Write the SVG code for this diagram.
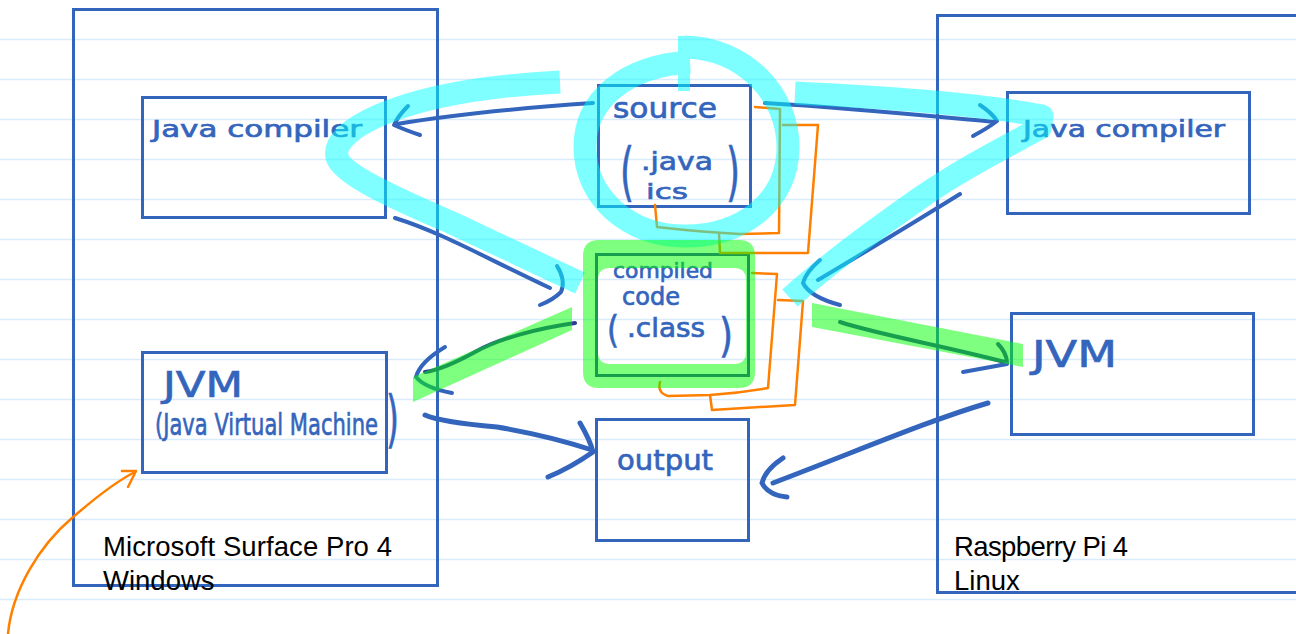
<svg xmlns="http://www.w3.org/2000/svg" width="1296" height="634" viewBox="0 0 1296 634">
<style>
.rule{stroke:#d9ecfb;stroke-width:1.5}
.box{fill:none;stroke:#3465bd;stroke-width:3}
.hw{fill:#3465bd;stroke:#3465bd;stroke-width:0.7;font-family:"DejaVu Sans",sans-serif}
.lbl{fill:#000;font-family:"Liberation Sans",Arial,sans-serif;font-size:27.5px}
.ink{fill:none;stroke:#3465bd;stroke-width:4;stroke-linecap:round;stroke-linejoin:round}
.dk{fill:none;stroke:#2e3d9c;stroke-width:4;stroke-linecap:round;stroke-linejoin:round}
.or{fill:none;stroke:#ff8000;stroke-width:2.5;stroke-linecap:round;stroke-linejoin:round}
.cy{fill:none;stroke:#00ffff;stroke-width:23;stroke-linejoin:round}
</style>
<rect x="0" y="0" width="1296" height="634" fill="#fff"/>
<g id="paper">
<line class="rule" x1="0" y1="39.5" x2="1296" y2="39.5"/>
<line class="rule" x1="0" y1="79.5" x2="1296" y2="79.5"/>
<line class="rule" x1="0" y1="119.5" x2="1296" y2="119.5"/>
<line class="rule" x1="0" y1="159.5" x2="1296" y2="159.5"/>
<line class="rule" x1="0" y1="199.5" x2="1296" y2="199.5"/>
<line class="rule" x1="0" y1="239.5" x2="1296" y2="239.5"/>
<line class="rule" x1="0" y1="279.5" x2="1296" y2="279.5"/>
<line class="rule" x1="0" y1="319.5" x2="1296" y2="319.5"/>
<line class="rule" x1="0" y1="359.5" x2="1296" y2="359.5"/>
<line class="rule" x1="0" y1="399.5" x2="1296" y2="399.5"/>
<line class="rule" x1="0" y1="439.5" x2="1296" y2="439.5"/>
<line class="rule" x1="0" y1="479.5" x2="1296" y2="479.5"/>
<line class="rule" x1="0" y1="519.5" x2="1296" y2="519.5"/>
<line class="rule" x1="0" y1="559.5" x2="1296" y2="559.5"/>
<line class="rule" x1="0" y1="599.5" x2="1296" y2="599.5"/>
</g>
<g id="windows-machine">
<rect class="box" x="73.5" y="9.5" width="364" height="576"/>
<text class="lbl" x="103" y="556" textLength="289">Microsoft Surface Pro 4</text>
<text class="lbl" x="103" y="590">Windows</text>
</g>
<g id="windows-compiler">
<rect class="box" x="142.5" y="97.5" width="243" height="120"/>
<text class="hw" x="152" y="137" font-size="23" textLength="210" lengthAdjust="spacingAndGlyphs">Java compiler</text>
</g>
<g id="windows-jvm">
<rect class="box" x="142.5" y="352.5" width="244" height="120"/>
<text class="hw" x="163" y="397" font-size="36" textLength="80" lengthAdjust="spacingAndGlyphs">JVM</text>
<text class="hw" x="155" y="435" font-size="30"><tspan textLength="223" lengthAdjust="spacingAndGlyphs">(Java Virtual Machine</tspan><tspan x="386" y="440" font-size="62" textLength="13" lengthAdjust="spacingAndGlyphs">)</tspan></text>
</g>
<g id="source">
<rect class="box" x="598.5" y="85.5" width="152" height="121"/>
<text class="hw" x="613" y="118" font-size="28" textLength="104" lengthAdjust="spacingAndGlyphs">source</text>
<text class="hw" x="620" y="194" font-size="64" textLength="14" lengthAdjust="spacingAndGlyphs">(</text>
<text class="hw" x="641" y="170" font-size="25" textLength="72" lengthAdjust="spacingAndGlyphs">.java</text>
<text class="hw" x="646" y="199" font-size="22" textLength="42" lengthAdjust="spacingAndGlyphs">ics</text>
<text class="hw" x="726" y="194" font-size="64" textLength="14" lengthAdjust="spacingAndGlyphs">)</text>
</g>
<g id="compiled">
<rect class="box" x="596.5" y="254.5" width="152" height="121" style="stroke:#2e3d9c"/>
<text class="hw" x="613" y="278" font-size="22" textLength="100" lengthAdjust="spacingAndGlyphs">compiled</text>
<text class="hw" x="622" y="305" font-size="24" textLength="58" lengthAdjust="spacingAndGlyphs">code</text>
<text class="hw" x="607" y="343" font-size="37" textLength="12" lengthAdjust="spacingAndGlyphs">(</text>
<text class="hw" x="627" y="337" font-size="26" textLength="78" lengthAdjust="spacingAndGlyphs">.class</text>
<text class="hw" x="719" y="351" font-size="47" textLength="14" lengthAdjust="spacingAndGlyphs">)</text>
</g>
<g id="output">
<rect class="box" x="596.5" y="419.5" width="152" height="121"/>
<text class="hw" x="617" y="470" font-size="28" textLength="96" lengthAdjust="spacingAndGlyphs">output</text>
</g>
<g id="linux-machine">
<path class="box" d="M1300,15.5 H937.5 V592.5 H1300"/>
<text class="lbl" x="954" y="556" textLength="174">Raspberry Pi 4</text>
<text class="lbl" x="954" y="590">Linux</text>
</g>
<g id="linux-compiler">
<rect class="box" x="1007.5" y="92.5" width="242" height="121"/>
<text class="hw" x="1023" y="137" font-size="23" textLength="202" lengthAdjust="spacingAndGlyphs">Java compiler</text>
</g>
<g id="linux-jvm">
<rect class="box" x="1011.5" y="313.5" width="242" height="121"/>
<text class="hw" x="1032" y="367" font-size="38" textLength="85" lengthAdjust="spacingAndGlyphs">JVM</text>
</g>
<g id="connectors">
<path class="ink" d="M593,103 C520,108 450,115 397,124"/>
<path class="ink" d="M408,106 Q398,116 394,125 Q405,130 420,135"/>
<path class="ink" d="M765,103 C850,108 930,116 995,122"/>
<path class="ink" d="M980,105 Q992,113 997,121 Q988,128 973,136"/>
<path class="ink" d="M395,218 C440,232 480,255 550,288"/>
<path class="ink" d="M557,266 Q566,280 561,292 Q553,300 540,305"/>
<path class="ink" d="M960,194 C910,225 860,255 818,280"/>
<path class="ink" d="M820,260 Q806,272 803,283 Q810,297 840,305"/>
<path class="dk" d="M575,323 C540,328 500,338 475,352 C455,363 440,370 425,372"/>
<path class="ink" d="M445,347 Q420,362 416,377 Q425,388 452,393"/>
<path class="dk" d="M840,322 C880,335 940,345 1005,362"/>
<path class="dk" d="M998,344 Q1006,352 1007,362"/>
<path class="ink" d="M963,372 Q985,368 1007,364"/>
<path class="ink" style="stroke-width:5" d="M425,415 Q440,422 497,427 Q550,436 592,450"/>
<path class="ink" style="stroke-width:5" d="M580,423 Q590,440 593,452 Q570,468 548,477"/>
<path class="ink" style="stroke-width:5" d="M988,403 C930,420 860,450 773,483"/>
<path class="ink" style="stroke-width:5" d="M783,458 Q765,470 762,483 Q768,495 787,497"/>
<path class="or" d="M755,107 L780,109 L779,233 L740,234 Q700,232 657,227 L655,205"/>
<path class="or" d="M783,125 L818,125 L808,253 L720,253 L719,233"/>
<path class="or" d="M752,273 L777,274 L768,388 Q740,393 710,395 L668,396 Q657,393 660,382"/>
<path class="or" d="M778,300 L803,301 L795,405 L712,410 L710,395"/>
<path class="or" d="M8,634 C12,590 40,545 72,518 C95,498 115,482 135,472"/>
<path class="or" d="M122,471 L136,471 L128,487"/>
</g>
<g id="highlight-cyan" opacity="0.5">
<path class="cy" d="M560,82 C480,86 420,98 380,115 C350,128 334,143 337,157 C341,172 380,192 450,222 L580,283"/>
<path class="cy" d="M684,47 C745,48 788,95 788,147 C788,202 742,236 685,236 C628,236 585,197 585,147 C585,100 625,66 690,62"/>
<rect x="678" y="36" width="12" height="55" fill="#00ffff"/>
<path class="cy" d="M795,93 C900,98 990,106 1042,116 L1040,128 C1000,150 960,170 920,198 C880,226 830,262 790,298"/>
</g>
<g id="highlight-green" opacity="0.5" fill="#00ff00">
<path fill-rule="evenodd" d="M599,240 H739 Q755,240 755,256 V372 Q755,388 739,388 H599 Q583,388 583,372 V256 Q583,240 599,240 Z M610,268 H734 Q746,268 746,280 V352 Q746,364 734,364 H610 Q598,364 598,352 V280 Q598,268 610,268 Z"/>
<polygon points="413,377 413,402 572,330 572,307"/>
<polygon points="812,303 812,327 1023,367 1023,344"/>
</g>
</svg>
